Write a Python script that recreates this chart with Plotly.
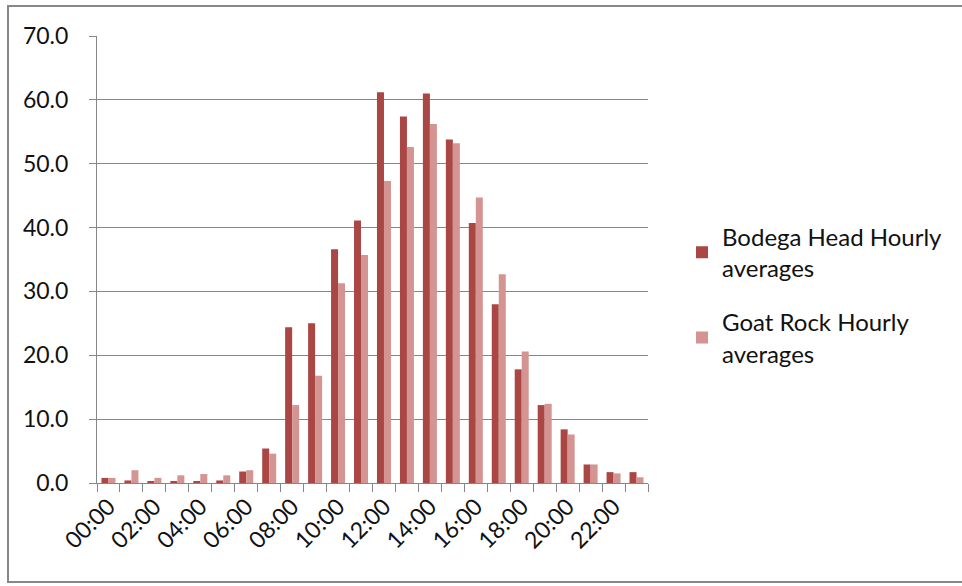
import plotly.graph_objects as go

hours = [f"{h:02d}:00" for h in range(24)]
bodega = [0.8, 0.4, 0.2, 0.2, 0.2, 0.4, 1.8, 5.4, 24.4, 25.0, 36.6, 41.1,
          61.2, 57.4, 61.0, 53.8, 40.7, 28.0, 17.8, 12.2, 8.4, 2.9, 1.7, 1.7]
goat = [0.8, 2.0, 0.8, 1.2, 1.4, 1.2, 2.0, 4.6, 12.2, 16.8, 31.3, 35.7,
        47.3, 52.6, 56.2, 53.2, 44.7, 32.7, 20.6, 12.4, 7.6, 2.9, 1.5, 0.9]
y_ticks = [0, 10, 20, 30, 40, 50, 60, 70]

xpos = list(range(len(hours)))
FONT = "Lato"

fig = go.Figure()
fig.add_trace(go.Bar(x=xpos, y=bodega, name="Bodega Head Hourly<br>averages",
                     legendgroup="a",
                     marker=dict(color="#AA4644", line=dict(width=0))))
fig.add_trace(go.Bar(x=xpos, y=goat, name="Goat Rock Hourly<br>averages",
                     legendgroup="b",
                     marker=dict(color="#D49492", line=dict(width=0))))

L, R, T, B = 97, 314, 36, 103
W, H = 962, 586
pw, ph = W - L - R, H - T - B

def px_x(p):
    return (p - L) / pw

def px_y(p):
    return (H - B - p) / ph

fig.update_layout(
    width=W, height=H,
    margin=dict(l=L, r=R, t=T, b=B, autoexpand=False),
    paper_bgcolor="white", plot_bgcolor="white",
    barmode="group", bargap=0.39, bargroupgap=0,
    font=dict(family=FONT, size=23, color="#111111"),
    showlegend=True,
    legend=dict(x=px_x(682), y=px_y(295), xanchor="left", yanchor="middle",
                font=dict(family=FONT, size=24, color="#111111"),
                tracegroupgap=20, itemwidth=30, bgcolor="rgba(0,0,0,0)"),
    xaxis=dict(
        range=[-0.5, 23.5],
        tickmode="array",
        tickvals=[i for i in xpos if i % 2 == 0],
        ticktext=[hours[i] for i in xpos if i % 2 == 0],
        tickangle=-45,
        ticks="",
        showgrid=False,
        showline=True, linecolor="#868686", linewidth=1,
        tickfont=dict(family=FONT, size=23, color="#111111"),
        minor=dict(tickmode="linear", tick0=-0.5, dtick=1, ticks="outside",
                   ticklen=8, tickcolor="#868686", tickwidth=1, showgrid=False),
        zeroline=False,
    ),
    yaxis=dict(
        range=[0, 70],
        tickmode="array",
        tickvals=y_ticks,
        ticktext=[f"{v:.1f}" for v in y_ticks],
        ticks="outside", ticklen=7, tickcolor="#868686", tickwidth=1,
        showgrid=True, gridcolor="#868686", gridwidth=1,
        showline=True, linecolor="#868686", linewidth=1,
        zeroline=False,
        ticklabelstandoff=16,
        tickfont=dict(family=FONT, size=23, color="#111111"),
    ),
    shapes=[dict(type="rect", xref="paper", yref="paper",
                 x0=px_x(8), x1=px_x(970), y0=px_y(582), y1=px_y(6),
                 line=dict(color="#878787", width=2), layer="below")],
)

fig.write_html("out.html",
               config={"displayModeBar": False},
               post_script="document.body.style.margin='0';document.body.style.overflow='hidden';")
